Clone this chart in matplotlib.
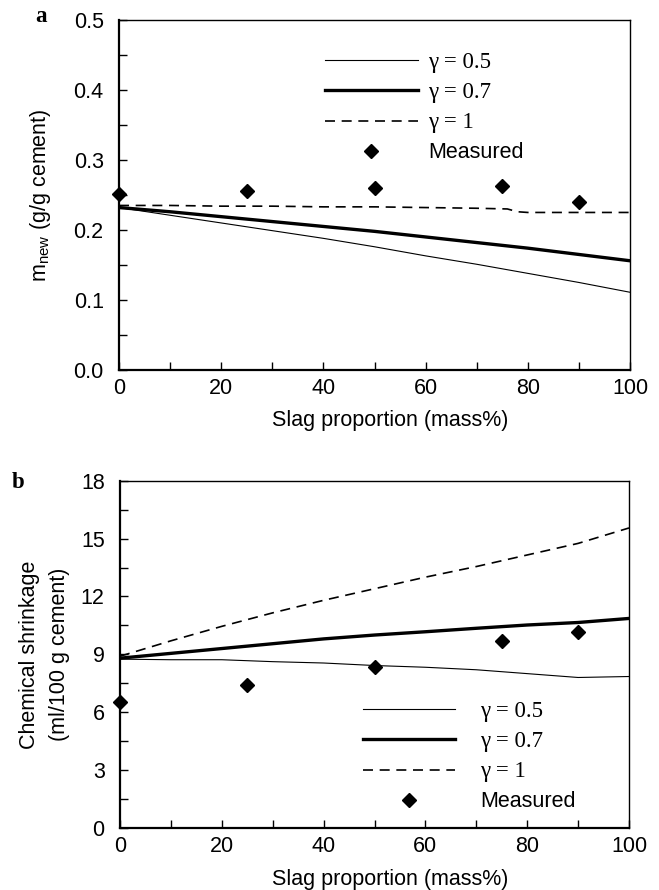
import matplotlib
matplotlib.use('Agg')
import matplotlib.pyplot as plt
from matplotlib.ticker import MultipleLocator

plt.rcParams['font.family'] = ['Liberation Sans', 'DejaVu Sans']
plt.rcParams['mathtext.fontset'] = 'custom'
plt.rcParams['mathtext.rm'] = 'Liberation Sans'

# --- Données ---
slag = [0, 10, 20, 30, 40, 50, 60, 70, 80, 90, 100]

# (a) m_new (g/g cement)
m_g05 = [0.232, 0.221, 0.210, 0.199, 0.188, 0.176, 0.163, 0.151, 0.138, 0.125, 0.111]
m_g07 = [0.232, 0.226, 0.219, 0.212, 0.205, 0.198, 0.190, 0.182, 0.174, 0.165, 0.156]
m_slag_g1 = [0, 10, 20, 30, 40, 50, 60, 70, 76, 78, 80, 90, 100]
m_g1 = [0.235, 0.235, 0.234, 0.234, 0.233, 0.233, 0.232, 0.231, 0.230, 0.226, 0.225, 0.225, 0.225]

meas_slag = [0, 25, 50, 75, 90]
m_meas = [0.252, 0.255, 0.260, 0.263, 0.240]

# (b) Chemical shrinkage (ml/100 g cement)
cs_g05 = [8.75, 8.72, 8.72, 8.62, 8.55, 8.42, 8.33, 8.20, 8.00, 7.80, 7.85]
cs_g07 = [8.80, 9.05, 9.30, 9.55, 9.80, 10.00, 10.17, 10.35, 10.52, 10.65, 10.86]
cs_g1 = [8.90, 9.70, 10.45, 11.15, 11.80, 12.40, 13.00, 13.55, 14.15, 14.75, 15.55]
cs_meas = [6.55, 7.41, 8.36, 9.70, 10.17]

labels = ['γ = 0.5', 'γ = 0.7', 'γ = 1', 'Measured']

FS = 15.5

fig = plt.figure(figsize=(6.59, 8.90), dpi=100)
ax_a = fig.add_axes([0.1806, 0.5843, 0.7754, 0.3933])
ax_b = fig.add_axes([0.1821, 0.0697, 0.7724, 0.3902])


def style_axes(ax, ymax, ymajor, yminor, yfmt):
    ax.set_xlim(0, 100)
    ax.set_ylim(0, ymax)
    ax.xaxis.set_major_locator(MultipleLocator(20))
    ax.xaxis.set_minor_locator(MultipleLocator(10))
    ax.yaxis.set_major_locator(MultipleLocator(ymajor))
    ax.yaxis.set_minor_locator(MultipleLocator(yminor))
    ax.yaxis.set_major_formatter(yfmt)
    ax.tick_params(which='both', direction='in', length=5.5, width=1.0,
                   top=False, right=False, labelsize=FS)
    ax.tick_params(axis='y', pad=11)
    ax.tick_params(axis='x', pad=6)
    for s in ['left', 'bottom']:
        ax.spines[s].set_linewidth(1.6)
    for s in ['top', 'right']:
        ax.spines[s].set_linewidth(1.0)
    ax.set_xlabel('Slag proportion (mass%)', fontsize=FS)


def draw_legend(ax, anchor, textpad):
    leg = ax.legend(loc='center left', bbox_to_anchor=anchor, frameon=False,
                    fontsize=FS, handlelength=4.3, handletextpad=textpad,
                    labelspacing=0.43, borderpad=0, borderaxespad=0)
    for t in leg.get_texts()[:3]:
        t.set_fontfamily('Liberation Serif')
        t.set_fontsize(FS + 1)
    return leg


# --- (a) ---
ax_a.plot(slag, m_g05, color='black', linewidth=0.8, label=labels[0])
ax_a.plot(slag, m_g07, color='black', linewidth=2.4, label=labels[1])
ax_a.plot(m_slag_g1, m_g1, color='black', linewidth=1.2, dashes=(6, 4), label=labels[2])
ax_a.plot(meas_slag, m_meas, linestyle='none', marker='D', markersize=7.5,
          color='black', clip_on=False, label=labels[3])
style_axes(ax_a, 0.5, 0.1, 0.05, '{x:.1f}')
ax_a.set_ylabel(r'm$_{\mathrm{new}}$ (g/g cement)', fontsize=FS)
ax_a.yaxis.set_label_coords(-0.129, 0.5)
ax_a.xaxis.set_label_coords(0.53, -0.115)
draw_legend(ax_a, (0.403, 0.75), 0.5)
fig.text(35 / 659, 1 - 17 / 890, 'a', fontsize=FS + 1, fontweight='bold',
         family='Liberation Serif', ha='left', va='center')

# --- (b) ---
ax_b.plot(slag, cs_g05, color='black', linewidth=0.8, label=labels[0])
ax_b.plot(slag, cs_g07, color='black', linewidth=2.4, label=labels[1])
ax_b.plot(slag, cs_g1, color='black', linewidth=1.2, dashes=(6, 4), label=labels[2])
ax_b.plot(meas_slag, cs_meas, linestyle='none', marker='D', markersize=7.5,
          color='black', clip_on=False, label=labels[3])
style_axes(ax_b, 18, 3, 1.5, '{x:.0f}')
ax_b.set_ylabel('Chemical shrinkage\n(ml/100 g cement)', fontsize=FS,
                linespacing=1.6)
ax_b.yaxis.set_label_coords(-0.098, 0.5)
ax_b.xaxis.set_label_coords(0.53, -0.118)
draw_legend(ax_b, (0.477, 0.206), 1.15)
fig.text(12 / 659, 1 - 483 / 890, 'b', fontsize=FS + 1, fontweight='bold',
         family='Liberation Serif', ha='left', va='center')

fig.savefig('out.png', dpi=100)
